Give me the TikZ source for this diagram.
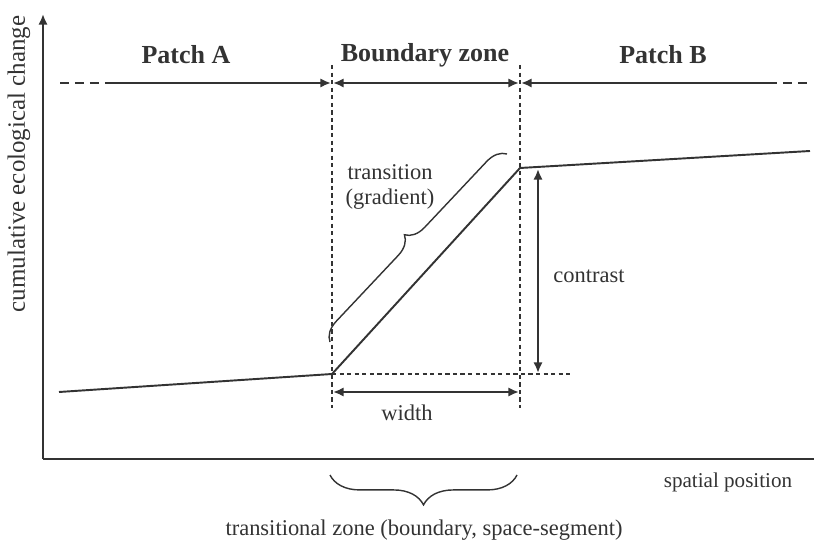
\documentclass[tikz,border=0pt]{standalone}
\usepackage{fontspec}
\setmainfont{Liberation Serif}
\usetikzlibrary{arrows.meta}
\usetikzlibrary{decorations.pathreplacing}

\definecolor{ink}{gray}{0.2}

\begin{document}
\begin{tikzpicture}[x=0.02cm,y=-0.02cm,color=ink,
    axis/.style={line width=1.3pt},
    curve/.style={line width=1.1pt},
    dimline/.style={line width=1.2pt},
    guide/.style={line width=0.7pt,dash pattern=on 2.4pt off 1.9pt},
    farline/.style={line width=1pt,dash pattern=on 5pt off 3.5pt},
    zonelabel/.style={font=\fontsize{14.8}{16}\selectfont\bfseries},
    lbl/.style={font=\fontsize{12.8}{14.5}\selectfont,inner sep=0pt},
    >={Latex[length=6pt,width=5.2pt]}]
  \useasboundingbox (0,0) rectangle (814,543);

  % axes
  \coordinate (origin) at (43,459);
  \coordinate (ytop) at (43,14);
  \coordinate (xend) at (814,459);
  \draw[axis,->] (origin) -- (ytop);
  \draw[axis] (origin) -- (xend);
  \node[lbl,font=\fontsize{14.2}{16}\selectfont,rotate=90] (ylabel) at (19,164) {cumulative ecological change};
  \node[lbl,font=\fontsize{12}{14}\selectfont] (xlabel) at (728,482) {spatial position};

  % zone borders
  \coordinate (borderLtop) at (332,65);
  \coordinate (borderLbot) at (332,408);
  \coordinate (borderRtop) at (520,65);
  \coordinate (borderRbot) at (520,408);
  \draw[guide] (borderLtop) -- (borderLbot);
  \draw[guide] (borderRtop) -- (borderRbot);

  % zones along the top
  \coordinate (dashA) at (60,83);
  \coordinate (solidA) at (107,83);
  \coordinate (tipA) at (331,83);
  \coordinate (tipBL) at (333,83);
  \coordinate (tipBR) at (519,83);
  \coordinate (tipB) at (521,83);
  \coordinate (solidB) at (768,83);
  \coordinate (dashB) at (810,83);
  \draw[farline] (dashA) -- (solidA);
  \draw[dimline,->] (solidA) -- (tipA);
  \draw[dimline,<->] (tipBL) -- (tipBR);
  \draw[dimline,<-] (tipB) -- (solidB);
  \draw[farline] (solidB) -- (dashB);
  \node[zonelabel] (patchA) at (186,55) {Patch A};
  \node[zonelabel] (boundary) at (425,55) {Boundary zone};
  \node[zonelabel] (patchB) at (663,55) {Patch B};

  % change curve
  \coordinate (startA) at (59,392);
  \coordinate (lowA) at (332,374);
  \coordinate (highB) at (520,168);
  \coordinate (endB) at (810,151);
  \draw[curve,line join=round] (startA) -- (lowA) -- (highB) -- (endB);
  \coordinate (baseEnd) at (572,374);
  \draw[guide] (lowA) -- (baseEnd);

  % contrast and width
  \coordinate (contTop) at (538,169);
  \coordinate (contBot) at (538,373);
  \draw[dimline,<->] (contTop) -- (contBot);
  \node[lbl] (contrast) at (589,276) {contrast};
  \coordinate (widthL) at (333,392);
  \coordinate (widthR) at (519,392);
  \draw[dimline,<->] (widthL) -- (widthR);
  \node[lbl] (width) at (407,413) {width};

  % transition brace
  \coordinate (braceLo) at (330,342);
  \coordinate (braceHi) at (507,154);
  \draw[line width=0.8pt,decorate,decoration={brace,amplitude=11pt}] (braceLo) -- (braceHi);
  \node[lbl,align=center] (transition) at (390,187) {transition\\(gradient)};

  % transitional zone brace
  \coordinate (zoneL) at (330,475);
  \coordinate (zoneR) at (517,475);
  \draw[line width=0.8pt,decorate,decoration={brace,mirror,amplitude=17pt}] (zoneL) -- (zoneR);
  \node[lbl] (zone) at (424,530) {transitional zone (boundary, space-segment)};
\end{tikzpicture}
\end{document}
